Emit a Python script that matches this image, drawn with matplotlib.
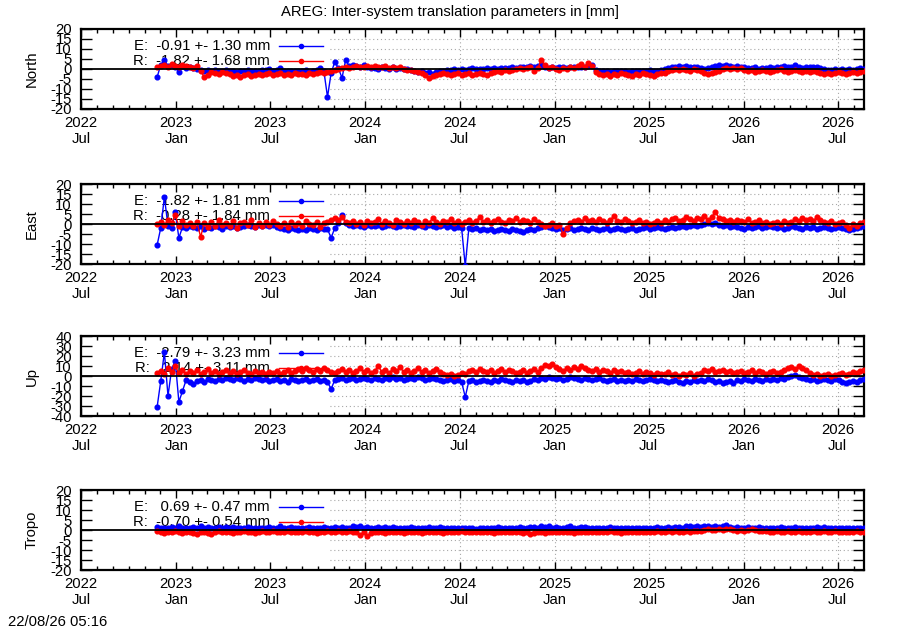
import matplotlib
matplotlib.use('Agg')
import matplotlib.pyplot as plt
import matplotlib.dates as mdates
from matplotlib.lines import Line2D
from matplotlib.patches import Rectangle
import pandas as pd

plt.rcParams['font.family'] = ['Liberation Sans', 'DejaVu Sans']
FS = 10.7
plt.rcParams['font.size'] = FS

# ---------------- data (weekly samples, mm) ----------------
start_date = '2022-11-25'
x_start = '2022-07-01'
x_end = '2026-08-21'

north_e = [-4.0, 2.0, 4.5, 1.5, 2.0, 1.0, -1.5, 1.5, 0.5, 1.0,
           0.5, 0.0, -0.5, -1.0, -0.5, -1.0, -0.5, -1.2, -0.8, -0.5,
           -1.0, -0.8, -1.5, -0.8, -1.0, -0.5, -1.2, -0.8, -1.0, -0.6,
           -0.5, 0.2, -0.8, -0.5, 0.5, -1.0, -0.8, -1.2, -0.8, -1.0,
           -1.0, -0.5, -1.5, -1.0, -0.5, 0.5, -1.0, -14.0, -2.0, 3.5,
           0.5, -4.5, 4.5, 1.5, 2.0, 1.5, 1.0, 1.8, 1.0, 0.5,
           0.5, 0.0, 1.0, 0.5, 0.2, 0.8, 0.0, 0.5, 0.2, -0.2,
           -0.5, -1.0, -1.5, -1.2, -2.0, -1.5, -2.5, -1.5, -1.0, -0.8,
           -0.5, -0.5, 0.0, -0.3, 0.2, -0.5, 0.0, 0.3, 0.0, 0.2,
           0.0, 0.5, 0.2, 0.5, 0.0, 0.5, 0.3, 0.5, 0.8, 0.5,
           0.8, 1.0, 1.2, 1.5, 1.0, 1.5, 1.8, 1.0, 0.5, 0.8,
           0.5, 0.8, 1.0, 0.5, 0.8, 1.0, 1.2, 0.8, 1.0, 1.5,
           2.0, -0.5, -1.0, -1.2, -0.8, -1.5, -1.0, -1.2, -0.8, -1.0,
           -1.5, -1.2, -1.0, -0.8, -1.2, -1.0, -0.5, -1.0, -0.8, -0.5,
           0.0, 0.5, 1.0, 1.0, 1.5, 1.2, 1.5, 1.0, 1.2, 0.8,
           0.5, 0.0, 0.5, 1.0, 1.5, 1.8, 1.5, 2.0, 1.5, 1.2,
           1.5, 1.0, 0.8, 0.5, 0.5, 0.8, 0.2, 0.5, 0.5, 0.8,
           0.5, 0.8, 1.2, 1.5, 1.0, 0.8, 1.8, 1.2, 0.5, 0.8,
           1.0, 1.2, 0.8, 0.5, 0.0, -0.3, -0.5, 0.0, -0.5, -0.2,
           -0.5, 0.0, -0.3, 0.0, 0.5, 0.0]

north_r = [1.0, 1.5, 2.0, 1.0, 2.5, 1.5, 1.0, 2.0, 1.5, 1.0,
           0.5, 1.5, -1.0, -4.0, -3.0, -1.5, -2.0, -2.5, -1.5, -2.0,
           -2.5, -3.5, -3.0, -3.8, -3.0, -2.5, -3.5, -3.0, -2.5, -3.0,
           -2.5, -2.0, -3.0, -2.5, -2.0, -2.8, -2.5, -3.0, -2.2, -2.5,
           -2.5, -3.0, -2.0, -2.5, -2.0, -1.5, -2.0, -1.5, -1.0, -0.5,
           0.0, 0.5, 1.0, 0.5, 1.0, 1.5, 0.8, 1.0, 1.5, 1.0,
           1.5, 0.8, 1.0, 1.5, 0.5, 1.0, 0.5, 0.8, 0.0, -0.5,
           -0.5, -1.0, -1.5, -2.0, -3.0, -4.5, -3.5, -3.0, -2.5, -2.0,
           -2.5, -3.0, -2.5, -2.0, -3.0, -2.5, -2.0, -3.0, -2.5, -2.0,
           -2.5, -3.0, -2.0, -1.5, -1.0, -1.5, -0.5, -1.0, -0.5, 0.0,
           0.5, 0.0, 0.5, 1.0, -1.0, 0.5, 4.5, 2.0, 0.5, 1.0,
           0.0, -0.5, 0.5, 0.0, 1.0, 0.5, 1.5, 2.5, 1.0, 3.0,
           1.5, -1.5, -2.5, -3.0, -2.5, -3.5, -2.5, -3.0, -2.0, -2.5,
           -3.0, -3.5, -2.5, -3.0, -2.0, -2.5, -3.0, -3.5, -2.5, -2.0,
           -2.0, -1.0, -0.5, 0.0, -0.5, 0.0, -0.5, -1.0, 0.0, -0.5,
           -1.0, -2.0, -2.5, -2.0, -1.5, -1.0, 0.0, 0.5, 0.0, 0.5,
           0.0, 0.5, -0.5, -1.0, -0.5, -1.5, -1.0, -0.5, -1.0, -1.5,
           -1.0, -0.5, 0.0, -1.0, -1.5, -1.0, -0.5, -1.0, -1.5, -1.0,
           -1.5, -1.0, -1.5, -2.0, -2.5, -2.0, -2.5, -2.0, -1.5, -2.0,
           -2.5, -2.0, -1.5, -2.0, -1.5, -1.0]

east_e = [-10.5, -2.0, 13.5, -1.0, -2.0, 6.0, -7.0, -1.5, -2.0, -1.0,
          -1.5, -2.0, -1.0, -2.5, -1.5, -2.0, -1.0, -1.5, -2.5, -1.0,
          -1.5, -1.0, -2.0, -1.5, -1.0, -0.5, -1.0, -1.5, -0.5, -1.0,
          -0.5, -1.0, -0.5, -1.5, -2.0, -2.5, -3.0, -2.0, -2.5, -3.0,
          -2.5, -3.0, -2.0, -2.5, -3.0, -2.0, -2.5, -2.5, -7.0, -2.0,
          0.5, 4.5, 0.5, -0.5, -1.0, -0.5, -1.0, -1.5, -0.5, -1.0,
          -1.0, -0.5, -1.5, -1.0, -0.5, -1.0, -1.5, -1.0, -0.5, -1.0,
          -1.0, -1.5, -0.5, -1.0, -1.5, -0.5, -1.0, -1.5, -1.0, -0.5,
          -1.5, -1.0, -2.0, -1.5, -2.0, -21.0, -2.0, -2.5, -2.0, -3.0,
          -2.5, -3.0, -2.5, -3.5, -3.0, -2.5, -3.0, -3.5, -2.5, -3.0,
          -3.5, -4.0, -3.0, -2.5, -3.0, -2.0, -1.5, -1.0, -1.5, -2.0,
          -2.5, -2.0, -3.0, -2.5, -2.0, -3.0, -2.5, -2.0, -2.5, -3.0,
          -2.0, -2.5, -3.0, -2.5, -2.0, -3.0, -2.5, -2.0, -2.5, -3.0,
          -2.5, -2.0, -3.0, -2.5, -2.0, -1.5, -2.5, -2.0, -1.5, -2.0,
          -2.5, -2.0, -1.5, -2.0, -1.5, -1.0, -1.5, -1.0, -0.5, -1.0,
          -0.5, 0.0, 0.5, 0.0, 0.3, -0.5, -1.0, -0.5, -1.5, -1.0,
          -1.5, -2.0, -2.5, -1.5, -2.0, -1.5, -1.0, -2.0, -1.5, -1.0,
          -1.5, -2.0, -1.5, -2.5, -2.0, -1.0, -1.5, -2.0, -2.5, -1.5,
          -2.0, -1.5, -2.5, -2.0, -1.5, -2.0, -2.5, -2.0, -1.5, -2.0,
          -2.5, -3.0, -2.5, -2.0, -1.5, -1.0]

east_r = [0.0, 1.0, -0.5, 2.0, 0.5, 4.5, -1.0, 1.5, -0.5, 0.5,
          -1.0, 1.0, -6.5, 0.5, -1.5, 1.0, -1.0, 2.0, -0.5, 0.5,
          -1.0, 1.5, -2.0, 0.5, 1.0, -0.5, 2.0, -1.5, 0.5, -1.0,
          1.0, -0.5, 1.5, 0.0, -1.0, 0.5, -1.5, 1.0, -0.5, 0.5,
          -1.0, 1.5, 0.0, -0.5, 1.0, -1.5, 0.5, 1.0, 2.0, 3.0,
          2.0, 3.5, 1.0, 0.5, 1.5, 0.0, 1.0, -0.5, 1.5, 0.5,
          1.0, 2.5, 0.0, 1.5, 0.5, -0.5, 2.0, 1.0, 0.0, 1.5,
          0.5, 2.0, 1.0, -0.5, 1.5, 0.5, 3.0, 1.0, 0.0, 1.5,
          1.0, 2.5, 0.5, 1.5, 0.0, 1.0, 2.0, 0.5, 1.5, 3.5,
          1.0, 2.0, 0.5, 1.5, 2.5, 1.0, 0.5, 2.0, 1.5, 3.0,
          1.0, 2.0, 1.5, 0.5, 2.5, 1.0, 0.0, -1.0, -0.5, 0.5,
          -1.0, -0.5, -5.0, -2.0, 0.5, 1.5, 2.0, 1.0, 3.0, 1.5,
          2.0, 1.0, 2.5, 1.5, 0.5, 2.0, 4.0, 1.5, 1.0, 2.5,
          1.5, 0.5, 1.0, 2.0, 0.5, 1.0, 0.0, 0.5, 1.5, 0.5,
          2.0, 1.0, 2.5, 3.0, 1.5, 2.0, 3.5, 2.5, 1.5, 3.0,
          2.5, 4.0, 2.0, 3.5, 6.0, 3.0, 2.5, 1.5, 2.0, 1.0,
          2.0, 1.5, 1.0, 2.5, 0.5, 1.0, 2.0, 0.5, 1.0, 0.0,
          0.5, 1.0, 0.0, 1.5, 0.5, 1.0, 2.5, 1.5, 3.0, 2.0,
          2.5, 1.5, 3.5, 2.0, 1.0, 0.5, 1.5, 0.0, 0.5, 1.0,
          -0.5, -2.0, 0.0, -1.0, 0.5, 1.0]

up_e = [-31.0, -5.0, 24.0, -20.0, 7.0, 15.0, -26.0, -15.0, -4.0, -6.0,
        -8.0, -5.0, -4.0, -6.0, -3.0, -4.0, -5.0, -3.0, -4.0, -2.0,
        -3.0, -4.0, -2.0, -3.0, -5.0, -3.0, -4.0, -2.0, -3.0, -4.0,
        -3.0, -5.0, -4.0, -3.0, -5.0, -4.0, -6.0, -3.0, -4.0, -5.0,
        -4.0, -3.0, -5.0, -4.0, -3.0, -5.0, -4.0, -6.0, -13.0, -4.0,
        -3.0, -2.0, -4.0, -3.0, -2.0, -4.0, -3.0, -2.0, -3.0, -4.0,
        -2.0, -3.0, -4.0, -2.0, -3.0, -1.0, -3.0, -2.0, -4.0, -3.0,
        -2.0, -3.0, -1.0, -2.0, -4.0, -3.0, -2.0, -3.0, -4.0, -5.0,
        -4.0, -3.0, -5.0, -4.0, -6.0, -21.0, -5.0, -4.0, -6.0, -5.0,
        -4.0, -5.0, -6.0, -4.0, -5.0, -3.0, -4.0, -5.0, -6.0, -4.0,
        -5.0, -4.0, -6.0, -5.0, -3.0, -4.0, -2.0, -3.0, -1.0, -2.0,
        -3.0, -2.0, -4.0, -3.0, -1.0, -2.0, -3.0, -4.0, -2.0, -3.0,
        -4.0, -3.0, -2.0, -4.0, -5.0, -4.0, -3.0, -5.0, -4.0, -5.0,
        -4.0, -5.0, -3.0, -4.0, -5.0, -4.0, -3.0, -4.0, -5.0, -4.0,
        -5.0, -6.0, -5.0, -4.0, -6.0, -7.0, -5.0, -6.0, -4.0, -5.0,
        -4.0, -5.0, -3.0, -4.0, -6.0, -5.0, -7.0, -6.0, -5.0, -7.0,
        -4.0, -5.0, -3.0, -4.0, -5.0, -3.0, -4.0, -5.0, -3.0, -4.0,
        -3.0, -4.0, -2.0, -3.0, -1.0, 0.0, 1.0, -1.0, -2.0, -3.0,
        -4.0, -3.0, -5.0, -4.0, -3.0, -4.0, -5.0, -3.0, -4.0, -6.0,
        -7.0, -6.0, -5.0, -6.0, -4.0, -3.0]

up_r = [3.0, 5.0, 2.0, 8.0, 4.0, 10.0, 3.0, 6.0, 2.0, 5.0,
        3.0, 6.0, 2.0, 4.0, 7.0, 3.0, 5.0, 2.0, 4.0, 6.0,
        3.0, 5.0, 2.0, 4.0, 6.0, 3.0, 2.0, 5.0, 3.0, 4.0,
        2.0, 4.0, 3.0, 5.0, 2.0, 4.0, 6.0, 3.0, 5.0, 7.0,
        5.0, 8.0, 6.0, 4.0, 7.0, 5.0, 8.0, 6.0, 4.0, 3.0,
        5.0, 7.0, 4.0, 6.0, 3.0, 5.0, 8.0, 4.0, 6.0, 3.0,
        5.0, 10.0, 4.0, 6.0, 3.0, 7.0, 5.0, 9.0, 4.0, 6.0,
        3.0, 5.0, 8.0, 4.0, 6.0, 3.0, 5.0, 7.0, 4.0, 2.0,
        1.0, 2.0, 0.0, 1.5, 3.0, 2.0, 5.0, 6.0, 4.0, 7.0,
        5.0, 4.0, 6.0, 3.0, 5.0, 7.0, 4.0, 6.0, 5.0, 3.0,
        4.0, 6.0, 3.0, 5.0, 7.0, 4.0, 8.0, 11.0, 10.0, 12.0,
        9.0, 7.0, 5.0, 8.0, 6.0, 9.0, 7.0, 10.0, 8.0, 6.0,
        5.0, 7.0, 4.0, 6.0, 5.0, 3.0, 6.0, 4.0, 5.0, 3.0,
        4.0, 2.0, 3.0, 5.0, 2.0, 4.0, 3.0, 1.0, 3.0, 2.0,
        2.0, 4.0, 1.0, 2.0, 0.0, 2.0, 1.0, 3.0, 0.0, 2.0,
        3.0, 6.0, 5.0, 7.0, 4.0, 5.0, 6.0, 4.0, 5.0, 3.0,
        4.0, 5.0, 3.0, 4.0, 6.0, 3.0, 5.0, 4.0, 2.0, 4.0,
        5.0, 3.0, 4.0, 6.0, 8.0, 9.0, 7.0, 10.0, 8.0, 6.0,
        3.0, 1.0, 2.0, 0.0, 1.0, 2.0, 0.0, 1.0, 2.0, 3.0,
        1.0, 2.0, 4.0, 3.0, 5.0, 6.0]

tropo_e = [1.5, 1.0, 1.2, 0.8, 1.5, 1.0, 1.8, 0.8, 1.2, 1.0,
           1.5, 1.2, 2.0, 1.0, 1.5, 0.8, 1.2, 1.5, 1.0, 1.3,
           1.0, 1.5, 1.2, 0.8, 1.0, 1.5, 1.2, 1.0, 0.8, 1.2,
           1.0, 1.5, 1.2, 1.0, 1.8, 1.2, 1.0, 1.5, 1.2, 0.8,
           1.0, 1.2, 1.5, 1.0, 1.2, 0.8, 1.5, 1.2, 1.0, 1.3,
           1.0, 1.5, 1.2, 1.0, 1.8, 1.5, 2.0, 1.2, 1.5, 1.0,
           1.2, 1.5, 1.0, 1.3, 1.0, 1.5, 1.2, 0.8, 1.0, 1.2,
           1.5, 1.0, 1.2, 0.8, 1.0, 1.5, 1.2, 1.0, 1.3, 1.0,
           0.8, 1.0, 1.2, 0.8, 1.0, 1.2, 0.8, 1.0, 0.7, 1.0,
           1.2, 0.8, 1.0, 1.2, 1.5, 1.0, 1.2, 0.8, 1.0, 1.2,
           1.5, 1.2, 1.0, 1.3, 1.5, 1.2, 2.2, 1.5, 1.8, 1.2,
           1.5, 1.2, 1.0, 1.5, 1.8, 1.2, 1.0, 1.3, 1.5, 1.0,
           1.2, 1.0, 0.8, 1.2, 1.0, 1.3, 1.0, 0.8, 1.0, 1.2,
           1.0, 0.8, 1.0, 1.2, 0.8, 1.0, 1.2, 1.0, 1.3, 1.0,
           1.2, 1.5, 1.0, 1.3, 1.5, 1.2, 1.8, 2.2, 1.5, 1.8,
           1.5, 2.0, 1.8, 1.5, 2.0, 1.5, 1.8, 2.5, 1.5, 1.2,
           1.5, 1.2, 1.0, 1.3, 1.0, 1.2, 1.5, 1.0, 1.2, 0.8,
           1.0, 1.2, 1.5, 1.0, 1.2, 1.0, 1.3, 1.0, 0.8, 1.2,
           1.0, 1.2, 1.5, 1.0, 1.3, 1.0, 1.2, 0.8, 1.0, 1.2,
           1.0, 1.2, 0.8, 1.0, 1.2, 1.0]

tropo_r = [-0.5, -1.0, -1.5, -0.8, -1.2, -0.5, -1.0, -1.5, -0.8, -1.0,
           -1.5, -2.0, -1.0, -0.8, -1.5, -2.0, -1.0, -0.5, -1.2, -1.0,
           -1.0, -1.5, -0.8, -1.2, -0.5, -1.0, -0.8, -1.5, -1.0, -0.5,
           -0.8, -1.0, -0.5, -1.2, -0.8, -1.0, -0.5, -1.0, -0.8, -1.2,
           -1.0, -0.5, -0.8, -1.0, -1.5, -0.8, -1.0, -0.5, -0.8, -1.0,
           -0.5, -0.8, -1.2, -0.5, -1.0, -0.8, -2.5, -1.0, -3.0, -1.5,
           -1.0, -0.8, -1.2, -1.5, -1.0, -0.8, -1.2, -1.0, -1.5, -0.8,
           -1.0, -1.2, -0.8, -1.5, -1.0, -0.8, -1.2, -1.0, -0.8, -1.5,
           -1.0, -0.8, -1.2, -1.0, -0.5, -0.8, -1.0, -1.2, -0.8, -1.0,
           -1.2, -0.8, -1.0, -1.5, -1.0, -0.8, -1.2, -1.0, -0.8, -1.2,
           -1.0, -1.5, -1.2, -1.8, -1.5, -1.0, -1.2, -1.5, -1.0, -0.8,
           -1.2, -1.0, -0.8, -1.2, -1.0, -1.5, -1.2, -0.8, -1.0, -1.2,
           -0.8, -1.0, -1.2, -0.8, -1.0, -0.5, -1.0, -1.2, -1.5, -1.0,
           -0.8, -1.0, -1.2, -0.8, -1.0, -1.2, -0.8, -1.0, -0.5, -0.8,
           -1.0, -0.5, -0.8, -0.5, -1.0, -0.8, -0.5, -0.8, -0.5, -0.3,
           -0.3, 0.0, 0.3, -0.2, 0.2, 0.5, -0.2, 0.3, 0.6, 0.0,
           -0.3, 0.2, -0.5, 0.0, 0.5, 0.2, -0.3, -0.5, -0.5, -0.8,
           -0.8, -0.5, -1.0, -0.8, -0.5, -0.8, -1.0, -0.5, -0.8, -1.0,
           -0.8, -0.5, -0.8, -1.0, -0.5, -0.8, -1.0, -0.5, -0.8, -1.0,
           -1.2, -0.8, -1.0, -0.5, -0.8, -1.0]

panel_names = ["North", "East", "Up", "Tropo"]
panel_e = [north_e, east_e, up_e, tropo_e]
panel_r = [north_r, east_r, up_r, tropo_r]
legend_e = ["E:  -0.91 +- 1.30 mm", "E:  -1.82 +- 1.81 mm",
            "E:  -2.79 +- 3.23 mm", "E:   0.69 +- 0.47 mm"]
legend_r = ["R:  -1.82 +- 1.68 mm", "R:  -0.28 +- 1.84 mm",
            "R:   2.14 +- 3.11 mm", "R:  -0.70 +- 0.54 mm"]
panel_lim = [20, 20, 40, 20]
panel_step = [5, 5, 10, 5]

title = "AREG: Inter-system translation parameters in [mm]"
stamp = "22/08/26 05:16"

# ---------------- figure ----------------
W, H = 900, 630
fig = plt.figure(figsize=(9, 6.3), dpi=100)

ax_left, ax_right = 81, 864
ax_tops = [29, 184, 336, 490]
ax_h = 80
box_frac = (330 - ax_left) / (ax_right - ax_left)

dates_all = pd.date_range(start_date, periods=200, freq='7D')
xs, xe = pd.Timestamp(x_start), pd.Timestamp(x_end)


def fx(px):
    return (px - ax_left) / (ax_right - ax_left)


for i, name in enumerate(panel_names):
    top = ax_tops[i]
    ax = fig.add_axes([ax_left / W, 1 - (top + ax_h) / H,
                       (ax_right - ax_left) / W, ax_h / H])
    lim, step = panel_lim[i], panel_step[i]
    ax.set_xlim(xs, xe)
    ax.set_ylim(-lim, lim)
    yt = list(range(-lim, lim + 1, step))
    ax.set_yticks(yt)
    ax.set_yticklabels([str(v) for v in yt])

    ax.xaxis.set_major_locator(mdates.MonthLocator(bymonth=[1, 7]))
    ax.xaxis.set_minor_locator(mdates.MonthLocator())
    ax.xaxis.set_major_formatter(mdates.DateFormatter('%Y\n%b'))

    ax.tick_params(axis='x', which='major', direction='in', length=5.5, width=1,
                   top=True, bottom=True, pad=5, labelsize=FS)
    ax.tick_params(axis='x', which='minor', direction='in', length=3, width=1,
                   top=True, bottom=True)
    ax.tick_params(axis='y', which='major', direction='in', length=8, width=1,
                   left=True, right=True, pad=6.5, labelsize=FS)
    for sp in ax.spines.values():
        sp.set_linewidth(1.6)

    # dotted grid
    for v in yt:
        if v != 0 and abs(v) != lim:
            ax.axhline(v, color='#a8a8a8', lw=0.8, dashes=(1, 2.5), zorder=0.5)
    for d in pd.date_range('2023-01-01', '2026-07-01', freq='6MS'):
        ax.axvline(d, color='#a8a8a8', lw=0.8, dashes=(1, 2.5), zorder=0.5)

    # opaque key area
    ax.add_patch(Rectangle((0, 0), box_frac, 1, transform=ax.transAxes,
                           facecolor='white', edgecolor='none', zorder=1))

    # key
    for row, (txt, col) in enumerate([(legend_e[i], 'blue'), (legend_r[i], 'red')]):
        yy = 1 - (17 + 15 * row) / ax_h
        ax.text(fx(270), yy, txt, transform=ax.transAxes, ha='right', va='center',
                fontsize=FS, zorder=2)
        ax.add_line(Line2D([fx(279), fx(323)], [yy, yy], transform=ax.transAxes,
                           color=col, lw=1, zorder=2))
        ax.add_line(Line2D([fx(301)], [yy], transform=ax.transAxes, marker='o',
                           ms=3.0, color=col, zorder=2))

    e = panel_e[i]
    r = panel_r[i]
    ax.plot(dates_all[:len(e)], e, '-o', color='blue', lw=1.0, ms=3.4, zorder=3)
    ax.plot(dates_all[:len(r)], r, '-o', color='red', lw=1.0, ms=3.4, zorder=3.1)
    ax.axhline(0, color='black', lw=1.3, zorder=5)

    fig.text(32 / W, 1 - (top + ax_h / 2) / H, name, rotation=90,
             ha='center', va='center', fontsize=FS)

fig.text(0.5, 1 - 12 / H, title, ha='center', va='center', fontsize=FS)
fig.text(8 / W, 1 - 622 / H, stamp, ha='left', va='center', fontsize=FS)

fig.savefig('out.png', dpi=100)
